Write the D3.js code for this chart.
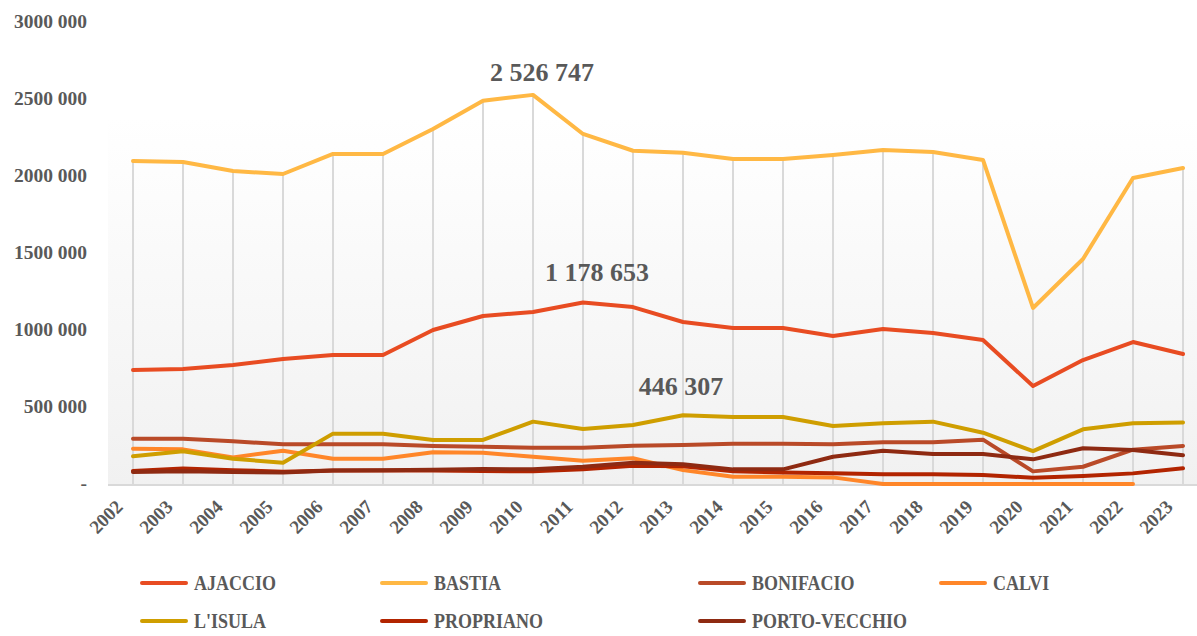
<!DOCTYPE html>
<html>
<head>
<meta charset="utf-8">
<script src="https://cdn.jsdelivr.net/npm/d3@7"></script>
<style>
  body { margin: 0; background: #fff; }
  #container { width: 1197px; height: 636px; }
</style>
</head>
<body>
<div id="container"></div>
<script>
const years = [2002, 2003, 2004, 2005, 2006, 2007, 2008, 2009, 2010, 2011, 2012, 2013, 2014, 2015, 2016, 2017, 2018, 2019, 2020, 2021, 2022, 2023];

const ajaccio = [740000, 747000, 773000, 812000, 838000, 838000, 1000000, 1091000, 1117000, 1178653, 1149000, 1052000, 1013000, 1013000, 961000, 1006000, 980000, 935000, 636000, 805000, 922000, 844000];
const bastia = [2097000, 2091000, 2032000, 2013000, 2143000, 2143000, 2305000, 2489000, 2526747, 2273000, 2164000, 2151000, 2110000, 2110000, 2136000, 2169000, 2156000, 2104000, 1143000, 1461000, 1987000, 2052000];
const bonifacio = [294000, 294000, 277000, 258000, 258000, 258000, 247000, 242000, 236000, 236000, 249000, 253000, 262000, 262000, 258000, 271000, 271000, 288000, 82000, 112000, 223000, 247000];
const calvi = [229000, 225000, 173000, 216000, 164000, 164000, 206000, 203000, 177000, 151000, 167000, 90000, 47000, 47000, 43000, 0, 0, 0, 0, 0, 0, null];
const isula = [180000, 212000, 164000, 138000, 327000, 327000, 286000, 286000, 405000, 357000, 383000, 446307, 435000, 435000, 377000, 394000, 405000, 333000, 214000, 355000, 394000, 400000];
const propriano = [85000, 100000, 90000, 80000, 88000, 88000, 88000, 85000, 82000, 96000, 118000, 115000, 82000, 75000, 69000, 63000, 63000, 58000, 41000, 52000, 69000, 102000];
const portoVecchio = [78000, 82000, 78000, 75000, 88000, 90000, 93000, 98000, 95000, 112000, 138000, 128000, 95000, 95000, 177000, 216000, 195000, 195000, 160000, 232000, 221000, 186000];

const seriesNames = ["AJACCIO", "BASTIA", "BONIFACIO", "CALVI", "L'ISULA", "PROPRIANO", "PORTO-VECCHIO"];
const seriesValues = [ajaccio, bastia, bonifacio, calvi, isula, propriano, portoVecchio];
const colors = ["#e84c22", "#ffb844", "#b94a28", "#ff8629", "#cf9e00", "#b22400", "#8e2a12"];

const yTicks = [0, 500000, 1000000, 1500000, 2000000, 2500000, 3000000];
const yTickLabels = ["-", "500 000", "1000 000", "1500 000", "2000 000", "2500 000", "3000 000"];

// labelled peaks: series index, year, text
const peakSeries = [1, 0, 4];
const peakYears = [2010, 2011, 2013];
const peakTexts = ["2 526 747", "1 178 653", "446 307"];

const width = 1197;
const height = 636;
const font = "'Liberation Serif', 'Times New Roman', serif";
const textColor = "#595959";

const x = d3.scalePoint()
    .domain(years)
    .range([133, 1183]);

const y = d3.scaleLinear()
    .domain([0, 3000000])
    .range([484, 22]);

const svg = d3.create("svg")
    .attr("width", width)
    .attr("height", height)
    .style("font-family", font)
    .style("font-weight", "bold");

const defs = svg.append("defs");
const grad = defs.append("linearGradient")
    .attr("id", "bg")
    .attr("x1", 0).attr("y1", 0).attr("x2", 0).attr("y2", 1);
grad.append("stop").attr("offset", "0%").attr("stop-color", "#ffffff");
grad.append("stop").attr("offset", "100%").attr("stop-color", "#f1f1f1");

// plot area background
svg.append("rect")
    .attr("x", 108)
    .attr("y", 118)
    .attr("width", width - 108)
    .attr("height", y(0) - 118)
    .attr("fill", "url(#bg)");

// drop lines from highest value down to axis
svg.append("g")
    .selectAll("line")
    .data(years)
    .join("line")
    .attr("x1", d => x(d))
    .attr("x2", d => x(d))
    .attr("y1", (d, i) => y(d3.max(seriesValues, s => s[i])))
    .attr("y2", y(0))
    .attr("stroke", "#d9d9d9")
    .attr("stroke-width", 2);

// baseline
svg.append("line")
    .attr("x1", 108)
    .attr("x2", width)
    .attr("y1", y(0) + 1)
    .attr("y2", y(0) + 1)
    .attr("stroke", "#d9d9d9")
    .attr("stroke-width", 2);

// y axis labels
svg.append("g")
    .selectAll("text")
    .data(yTicks)
    .join("text")
    .attr("x", 87)
    .attr("y", d => y(d))
    .attr("dy", "0.33em")
    .attr("text-anchor", "end")
    .attr("font-size", "19.5px")
    .attr("fill", textColor)
    .text((d, i) => yTickLabels[i]);

// x axis labels
svg.append("g")
    .selectAll("text")
    .data(years)
    .join("text")
    .attr("transform", d => `translate(${x(d) - 9}, 508) rotate(-45)`)
    .attr("text-anchor", "end")
    .attr("font-size", "19px")
    .attr("fill", textColor)
    .text(d => d);

// lines
const line = d3.line()
    .defined(d => d != null)
    .x((d, i) => x(years[i]))
    .y(d => y(d));

const drawOrder = [2, 3, 4, 5, 6, 0, 1];
drawOrder.forEach(i => {
    svg.append("path")
        .datum(seriesValues[i])
        .attr("fill", "none")
        .attr("stroke", colors[i])
        .attr("stroke-width", 4)
        .attr("stroke-linejoin", "round")
        .attr("stroke-linecap", "round")
        .attr("d", line);
});

// peak labels
const peakOffsets = [[9, -14], [14, -21], [-2, -20]];
peakSeries.forEach((s, k) => {
    const idx = years.indexOf(peakYears[k]);
    svg.append("text")
        .attr("x", x(peakYears[k]) + peakOffsets[k][0])
        .attr("y", y(seriesValues[s][idx]) + peakOffsets[k][1])
        .attr("text-anchor", "middle")
        .attr("font-size", "26px")
        .attr("fill", textColor)
        .text(peakTexts[k]);
});

// legend
const legendX = [140, 380, 698, 939];
const legendRowY = [583, 621];
const legend = svg.append("g");
seriesNames.forEach((name, i) => {
    const col = i < 4 ? i : i - 4;
    const row = i < 4 ? 0 : 1;
    const lx = legendX[col];
    const ly = legendRowY[row];
    legend.append("line")
        .attr("x1", lx + 2)
        .attr("x2", lx + 46)
        .attr("y1", ly)
        .attr("y2", ly)
        .attr("stroke", colors[i])
        .attr("stroke-width", 4)
        .attr("stroke-linecap", "round");
    legend.append("text")
        .attr("transform", `translate(${lx + 54}, ${ly}) scale(1, 1.15)`)
        .attr("dy", "0.36em")
        .attr("font-size", "18px")
        .attr("fill", textColor)
        .text(name);
});

document.getElementById("container").append(svg.node());
</script>
</body>
</html>
